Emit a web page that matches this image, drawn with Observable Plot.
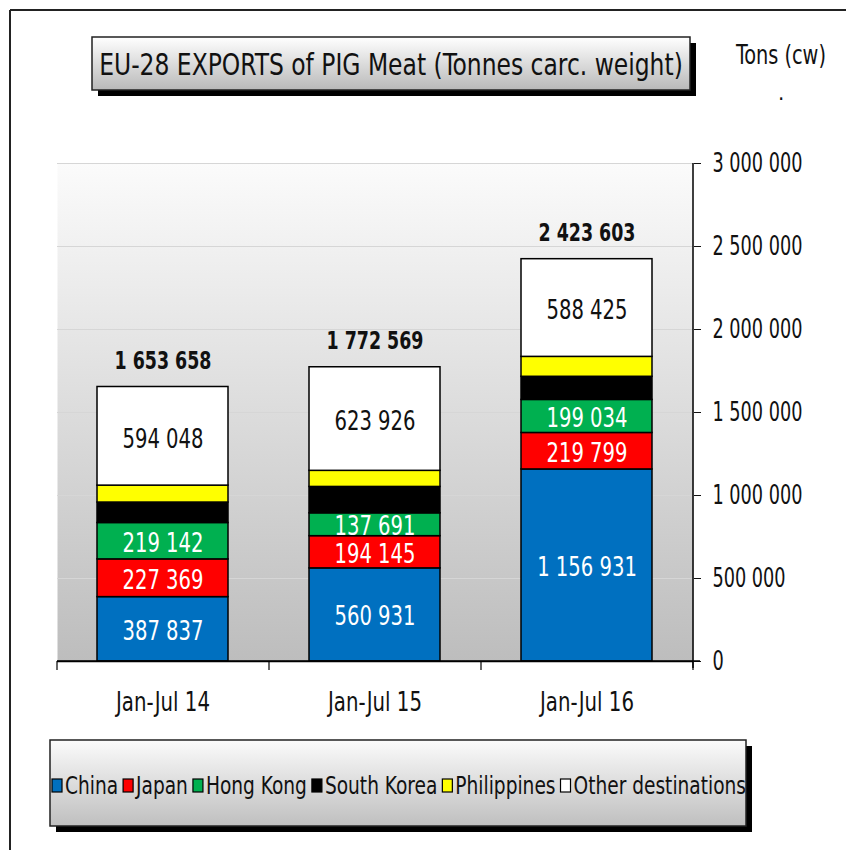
<!DOCTYPE html>
<html>
<head>
<meta charset="utf-8">
<script src="https://cdn.jsdelivr.net/npm/d3@7"></script>
<script src="https://cdn.jsdelivr.net/npm/@observablehq/plot@0.6"></script>
<style>
  html, body { margin: 0; padding: 0; background: #ffffff; }
  #chart svg { display: block; }
</style>
</head>
<body>
<div id="chart"></div>
<script>
// ---- Data ----
const periods = ["Jan-Jul 14", "Jan-Jul 15", "Jan-Jul 16"];
const series = ["China", "Japan", "Hong Kong", "South Korea", "Philippines", "Other destinations"];
const seriesColors = ["#0070C0", "#FF0000", "#00B050", "#000000", "#FFFF00", "#FFFFFF"];
const china = [387837, 560931, 1156931];
const japan = [227369, 194145, 219799];
const hongKong = [219142, 137691, 199034];
const southKorea = [123262, 158876, 139414];
const philippines = [102000, 97000, 120000];
const otherDestinations = [594048, 623926, 588425];
const yTicks = [0, 500000, 1000000, 1500000, 2000000, 2500000, 3000000];
const whiteLabelSeries = ["China", "Japan", "Hong Kong"];
const blackLabelSeries = ["Other destinations"];
const titleText = "EU-28 EXPORTS of PIG Meat (Tonnes carc. weight)";
const unitText = "Tons (cw)";

const seriesValues = [china, japan, hongKong, southKorea, philippines, otherDestinations];
const data = periods.flatMap((p, i) => series.map((s, j) => ({period: p, series: s, value: seriesValues[j][i]})));
const totals = periods.map((p, i) => ({period: p, total: d3.sum(seriesValues, v => v[i])}));

const fmt = d3.formatLocale({decimal: ",", thousands: " ", grouping: [3], currency: ["", ""]}).format(",d");
const FONT = "'Liberation Sans Narrow', 'DejaVu Sans Condensed', 'Arial Narrow', sans-serif";

const W = 846, H = 850;
const plot = Plot.plot({
  width: W,
  height: H,
  marginLeft: 57,
  marginRight: 153,
  marginTop: 163,
  marginBottom: 189,
  style: {fontFamily: FONT, fontSize: "25px", color: "#111", background: "transparent", overflow: "visible"},
  x: {domain: periods, paddingInner: 0.38, paddingOuter: 0.19, label: null},
  y: {domain: [0, 3000000], label: null},
  color: {domain: series, range: seriesColors},
  marks: [
    Plot.frame({fill: "url(#plotBg)", stroke: "none"}),
    Plot.gridY(yTicks, {stroke: "#d6d6d6", strokeOpacity: 1, strokeWidth: 1}),
    Plot.barY(data, {x: "period", y: "value", fill: "series", stroke: "#000", strokeWidth: 1.5}),
    Plot.text(data, Plot.stackY({x: "period", y: "value",
      text: d => whiteLabelSeries.includes(d.series) ? fmt(d.value) : "",
      fill: "white", fontSize: 26, dy: 2})),
    Plot.text(data, Plot.stackY({x: "period", y: "value",
      text: d => blackLabelSeries.includes(d.series) ? fmt(d.value) : "",
      fill: "#111", fontSize: 26, dy: 3})),
    Plot.text(totals, {x: "period", y: "total", text: d => fmt(d.total), dy: -26, fontWeight: "bold", fontSize: 25, fill: "#111"}),
    Plot.ruleY([0], {stroke: "#000", strokeWidth: 1.5}),
    Plot.axisY({anchor: "right", ticks: yTicks, tickFormat: fmt, tickSize: 7, tickPadding: 12, textAnchor: "start", fontSize: 26, label: null}),
    Plot.axisX({tickSize: 0, tickPadding: 31, fontSize: 26, label: null})
  ]
});
document.getElementById("chart").appendChild(plot);

// ---- narrow-font emulation: compress glyphs horizontally to the reference widths ----
function fitGroup(nodes, refText, refWidth) {
  nodes = nodes.filter(n => n.textContent.length > 0);
  const ref = nodes.find(n => n.textContent === refText) || nodes[0];
  if (!ref) return;
  const k = refWidth / ref.getComputedTextLength();
  nodes.forEach(n => {
    const w = n.getComputedTextLength();
    n.setAttribute("textLength", (w * k).toFixed(1));
    n.setAttribute("lengthAdjust", "spacingAndGlyphs");
  });
}
const svg = d3.select(plot);
const allText = svg.selectAll("text").nodes();
const segSet = new Set(data.filter(d => whiteLabelSeries.includes(d.series) || blackLabelSeries.includes(d.series)).map(d => fmt(d.value)));
const totSet = new Set(totals.map(d => fmt(d.total)));
const tickSet = new Set(yTicks.map(fmt));
const perSet = new Set(periods);
fitGroup(allText.filter(n => segSet.has(n.textContent)), fmt(china[0]), 81);
fitGroup(allText.filter(n => totSet.has(n.textContent)), fmt(totals[0].total), 97);
fitGroup(allText.filter(n => tickSet.has(n.textContent)), fmt(3000000), 90);
fitGroup(allText.filter(n => perSet.has(n.textContent)), periods[0], 94);

// ---- Decorations ----
const defs = svg.insert("defs", ":first-child");
function vGrad(id, c1, c2) {
  const g = defs.append("linearGradient").attr("id", id).attr("x1", 0).attr("y1", 0).attr("x2", 0).attr("y2", 1);
  g.append("stop").attr("offset", "0%").attr("stop-color", c1);
  g.append("stop").attr("offset", "100%").attr("stop-color", c2);
}
vGrad("plotBg", "#fbfbfb", "#bdbdbd");
vGrad("titleBg", "#ffffff", "#b9b9b9");
vGrad("legendBg", "#fbfbfb", "#bfbfbf");

const xs = plot.scale("x"), ys = plot.scale("y");
const [x0, x1] = xs.range;
const y0 = ys.apply(0), yTop = ys.apply(3000000);
const deco = svg.append("g").attr("text-anchor", "start");

// axis lines
deco.append("line").attr("x1", x1).attr("x2", x1).attr("y1", yTop).attr("y2", y0 + 7).attr("stroke", "#000").attr("stroke-width", 1.5);
deco.append("line").attr("x1", x0).attr("x2", x1 + 7).attr("y1", y0).attr("y2", y0).attr("stroke", "#000").attr("stroke-width", 1.5);
const step = (x1 - x0) / periods.length;
for (let i = 0; i <= periods.length; i++) {
  deco.append("line").attr("x1", x0 + i * step).attr("x2", x0 + i * step).attr("y1", y0).attr("y2", y0 + 9).attr("stroke", "#000").attr("stroke-width", 1.2);
}

// outer frame
deco.append("line").attr("x1", 10).attr("x2", W).attr("y1", 10).attr("y2", 10).attr("stroke", "#222").attr("stroke-width", 2);
deco.append("line").attr("x1", 10).attr("x2", 10).attr("y1", 10).attr("y2", H).attr("stroke", "#222").attr("stroke-width", 2);

// horizontally squeezed text (transform-based, so its box matches what is drawn)
function squeezedText(parent, x, y, str, size, targetW, anchor) {
  const g = parent.append("g");
  const t = g.append("text").attr("x", 0).attr("y", 0).attr("text-anchor", anchor)
    .attr("font-family", FONT).attr("font-size", size).attr("fill", "#111").text(str);
  const k = targetW / t.node().getComputedTextLength();
  g.attr("transform", `translate(${x},${y}) scale(${k.toFixed(4)},1)`);
  return g;
}

// title box
deco.append("rect").attr("x", 98).attr("y", 43).attr("width", 598).attr("height", 53).attr("fill", "#000");
deco.append("rect").attr("x", 92).attr("y", 37).attr("width", 598).attr("height", 53).attr("fill", "url(#titleBg)").attr("stroke", "#222").attr("stroke-width", 1.5);
squeezedText(deco, 391, 75, titleText, 30, 584, "middle");

// unit
squeezedText(deco, 736, 64, unitText, 26, 90, "start");
deco.append("text").attr("x", 778).attr("y", 100).attr("text-anchor", "start").attr("font-family", FONT).attr("font-size", 22).attr("fill", "#111").text(".");

// legend box
deco.append("rect").attr("x", 56).attr("y", 746).attr("width", 696).attr("height", 86).attr("fill", "#000");
deco.append("rect").attr("x", 50).attr("y", 740).attr("width", 696).attr("height", 86).attr("fill", "url(#legendBg)").attr("stroke", "#222").attr("stroke-width", 1.5);
const lg = deco.append("g").attr("text-anchor", "start");
const legendTexts = series.map(s => lg.append("text").attr("y", 794).attr("text-anchor", "start")
  .attr("font-family", FONT).attr("font-size", 24).attr("fill", "#111").text(s));
const natural = legendTexts.map(t => t.node().getComputedTextLength());
const swatchW = 10, gapIn = 3, gapOut = 5, legendStart = 52, legendEnd = 746;
const kLeg = (legendEnd - legendStart - series.length * (swatchW + gapIn) - (series.length - 1) * gapOut) / d3.sum(natural);
let pos = legendStart;
series.forEach((s, i) => {
  lg.append("rect").attr("x", pos).attr("y", 779).attr("width", swatchW).attr("height", 13)
    .attr("fill", seriesColors[i]).attr("stroke", "#000").attr("stroke-width", 1.2);
  const w = natural[i] * kLeg;
  legendTexts[i].attr("x", pos + swatchW + gapIn).attr("textLength", w.toFixed(1)).attr("lengthAdjust", "spacingAndGlyphs");
  pos += swatchW + gapIn + w + gapOut;
});
</script>
</body>
</html>
